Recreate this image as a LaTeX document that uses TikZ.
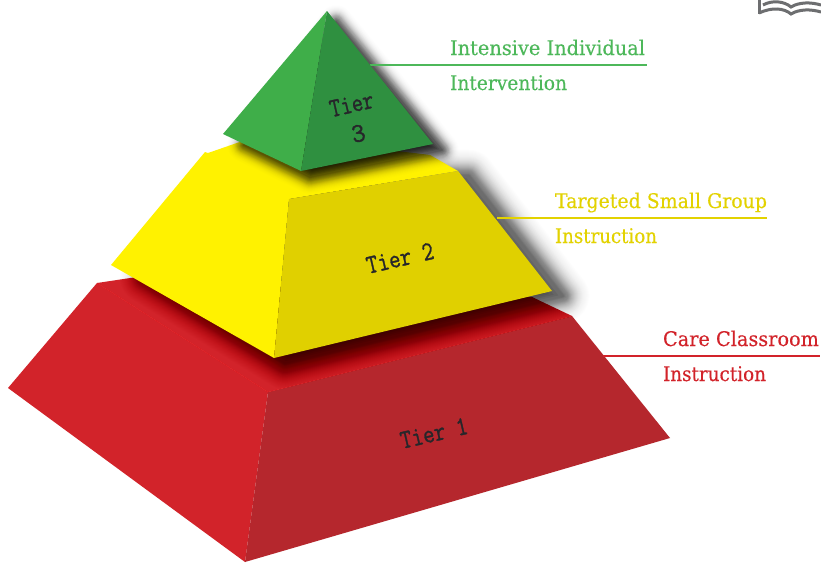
\documentclass[tikz,border=0pt]{standalone}
\usepackage{fontspec}
\usepackage{graphicx}
\setmainfont{DejaVu Serif}
\newfontfamily\labfont[FakeBold=0.25]{DejaVu Serif}
\newfontfamily\tierfont[FakeBold=1.2]{Latin Modern Mono}
\definecolor{redL}{HTML}{D2232A}
\definecolor{redD}{HTML}{B5272D}
\definecolor{yelL}{HTML}{FFF200}
\definecolor{yelD}{HTML}{E0D000}
\definecolor{grnL}{HTML}{3FAE49}
\definecolor{grnD}{HTML}{2F9040}
\definecolor{txtG}{HTML}{4DB85A}
\definecolor{txtY}{HTML}{E3D200}
\definecolor{txtR}{HTML}{D2232A}
\definecolor{ink}{HTML}{26262A}
\definecolor{bookgray}{HTML}{6D6E70}
\tikzset{
  lab/.style={anchor=base west,inner sep=0pt,outer sep=0pt,font=\labfont\fontsize{18}{20}\selectfont},
  tierlab/.style={inner sep=0pt,text=ink,align=center,font=\tierfont\fontsize{27}{30}\selectfont},
  rule/.style={line width=2pt},
  bookline/.style={draw=bookgray,line width=3pt,line cap=butt},
}
% #1 sigma, #2 layers (half-px steps), #3 peak alpha, #4 offset, #5 centre, #6 inner scales, #7 inner alpha, #8 path
\newcommand{\softshadow}[8]{%
  \foreach \w in {#2,...,1}{
    \pgfmathsetmacro\layeralpha{#3*exp(-(\w*\w/4)/(2*#1*#1))}
    \begin{scope}[transparency group,opacity=\layeralpha]
      \path[fill=black,draw=black,line width=\w pt,line join=round,shift={#4}] #8;
    \end{scope}
  }
  \foreach \s in {#6}{
    \path[fill=black,fill opacity=#7,shift={#4},scale around={\s:#5}] #8;
  }
}
\newcommand{\fitw}[2]{\resizebox{#1pt}{1.12\height}{#2}}
\begin{document}
\begin{tikzpicture}[x=1pt,y=-1pt]
\useasboundingbox (0,0) rectangle (821,562);
\fill[white] (0,0) rectangle (821,562);
% book icon
\begin{scope}
\clip (0,0) rectangle (821,562);
\draw[bookline] (759.5,-2) -- (759.5,14);
\draw[bookline] (759,13) .. controls (772,7) and (784,8) .. (791,14) .. controls (799,9) and (811,9) .. (821,12);
\draw[bookline] (763,5) .. controls (772,0) and (784,1) .. (791,7) .. controls (799,2) and (811,2) .. (821,5);
\end{scope}
% tier 1
\fill[redL] (97,283) -- (150,275) -- (532,297) -- (572,316) -- (268,392) -- cycle;
\fill[redL] (97,283) -- (268,392) -- (245,562) -- (8,388) -- cycle;
\fill[redD] (268,392) -- (572,316) -- (670,438) -- (245,562) -- cycle;
\draw[line width=.4pt,red!35!redL] (97,283) -- (268,392) -- (572,316);
% shadow of tier 2, kept to the top face and the white beyond it
\begin{scope}
\clip (0,0) -- (821,0) -- (821,562) -- (690,562) -- (572,316) -- (268,392) -- (97,283) -- (0,283) -- cycle;
\softshadow{12}{1,2,...,56}{.023}{(11pt,-5pt)}{(320,260)}{.98,.96,.94,.92,.90,.88,.86,.84}{.07}{(225,165) -- (458,171) -- (552,291) -- (274,358) -- (135,272) -- cycle}
\end{scope}
\coordinate (r1) at (820,356);
\coordinate (r1s) at (603,356);
\draw[rule,txtR] (r1s) -- (r1);
% tier 2
\fill[yelL] (205,152) -- (208,153) -- (260,135) -- (430,155) -- (458,171) -- (289,199) -- (274,358) -- (111,265) -- cycle;
\fill[yelD] (289,199) -- (458,171) -- (552,291) -- (274,358) -- cycle;
% shadow of tier 3
\softshadow{7}{1,2,...,34}{.053}{(9pt,-6pt)}{(320,110)}{.98,.96,.94,.92,.90,.88,.86,.84}{.13}{(327,16) -- (433,144) -- (301,171) -- (235,139) -- cycle}
\coordinate (y1) at (767,218);
\coordinate (y1s) at (497,218);
\draw[rule,txtY] (y1s) -- (y1);
\coordinate (g1) at (647,65);
\coordinate (g1s) at (370,65);
\draw[rule,txtG] (g1s) -- (g1);
% tier 3
\fill[grnL] (327,11) -- (301,171) -- (223,134) -- cycle;
\fill[grnD] (327,11) -- (433,144) -- (301,171) -- cycle;
% tier labels
\node[tierlab,rotate=13] (t1) at (434,433) {\scalebox{.82}[1]{Tier 1}};
\node[tierlab,rotate=13] (t2) at (400,258) {\scalebox{.82}[1]{Tier 2}};
\node[tierlab,rotate=13] (t3) at (355,119) {\scalebox{.8}[1]{Tier}\\3};
% side labels
\node[lab,text=txtG] (g1a) at (450,55) {\fitw{195}{Intensive Individual}};
\node[lab,text=txtG] (g1b) at (450,90) {\fitw{117}{Intervention}};
\node[lab,text=txtY] (y1a) at (555,208) {\fitw{212}{Targeted Small Group}};
\node[lab,text=txtY] (y1b) at (555,243) {\fitw{102}{Instruction}};
\node[lab,text=txtR] (r1a) at (663,346) {\fitw{156}{Care Classroom}};
\node[lab,text=txtR] (r1b) at (663,381) {\fitw{103}{Instruction}};
\end{tikzpicture}
\end{document}
